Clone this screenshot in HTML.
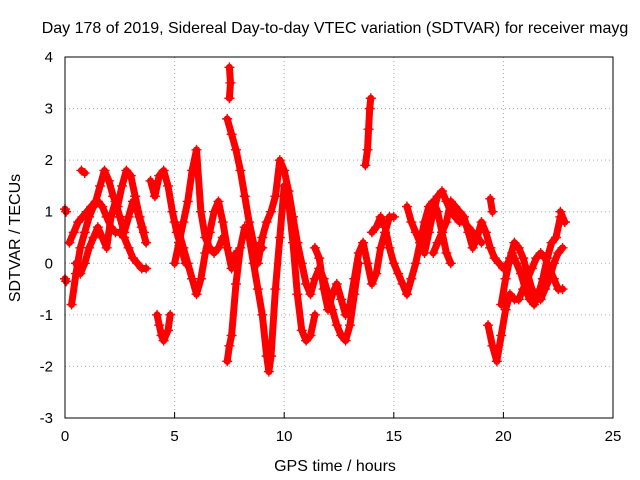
<!DOCTYPE html>
<html><head><meta charset="utf-8"><style>
body{margin:0;background:#fff}
svg{display:block;font-family:"Liberation Sans",sans-serif}
</style></head><body>
<svg id="chart" width="640" height="480">
<text x="335" y="33" text-anchor="middle" font-size="16">Day 178 of 2019, Sidereal Day-to-day VTEC variation (SDTVAR) for receiver mayg</text>
<text x="335" y="471" text-anchor="middle" font-size="16">GPS time / hours</text>
<text transform="translate(20,238) rotate(-90)" text-anchor="middle" font-size="16">SDTVAR / TECUs</text>
<g id="grid"></g>
<g id="marks"></g>
<rect x="65" y="57" width="548" height="361" fill="none" stroke="#000"/>
</svg>
<script>
const xTicks=[0,5,10,15,20,25];
const yTicks=[-3,-2,-1,0,1,2,3,4];
const tracks=[
[[0.3,-0.8],[0.5,-0.2],[0.7,0.3],[0.9,0.6],[1.1,0.9],[1.3,1.1],[1.5,1.2],[1.7,1.1],[1.9,0.9],[2.1,0.7],[2.3,0.6],[2.5,0.6],[2.7,0.5],[2.9,0.3],[3.1,0.1],[3.3,0.0],[3.5,-0.1],[3.7,-0.1]],
[[0.2,0.4],[0.4,0.6],[0.6,0.8],[0.8,0.9],[1.0,1.0],[1.2,1.1],[1.4,1.2],[1.6,1.5],[1.8,1.8],[2.0,1.6],[2.2,1.3],[2.4,1.1],[2.6,1.5],[2.8,1.8],[3.0,1.7],[3.2,1.3],[3.4,0.9],[3.6,0.6]],
[[0.5,0.0],[0.7,-0.2],[0.9,0.0],[1.1,0.3],[1.3,0.5],[1.5,0.7],[1.7,0.5],[1.9,0.3],[2.1,0.9],[2.3,1.2],[2.5,0.9],[2.7,0.6],[2.9,0.9],[3.1,1.2],[3.3,1.0],[3.5,0.7],[3.7,0.4]],
[[3.9,1.6],[4.1,1.3],[4.3,1.7],[4.5,1.8],[4.7,1.5],[4.9,1.0],[5.1,0.6],[5.3,0.3],[5.5,0.0]],
[[4.2,-1.0],[4.3,-1.2],[4.4,-1.4],[4.5,-1.5],[4.7,-1.3],[4.8,-1.0]],
[[5.0,0.0],[5.2,0.4],[5.4,0.8],[5.6,1.2],[5.8,1.8],[6.0,2.2],[6.2,1.0],[6.4,0.5],[6.6,0.3],[6.8,0.2],[7.0,0.3],[7.2,0.5]],
[[5.0,0.8],[5.2,0.6],[5.4,0.3],[5.6,0.0],[5.8,-0.3],[6.0,-0.6],[6.2,-0.3],[6.4,0.2],[6.6,0.6],[6.8,1.0],[7.0,1.2],[7.2,0.8],[7.4,0.3],[7.6,-0.1],[7.8,0.2]],
[[7.4,2.8],[7.6,2.5],[7.8,2.2],[8.0,1.8],[8.2,1.3],[8.4,0.8],[8.6,0.4],[8.8,0.2],[9.0,0.3]],
[[7.5,3.8],[7.55,3.5],[7.5,3.2]],
[[7.4,-1.9],[7.5,-1.6],[7.6,-1.4],[7.8,-0.4],[8.0,0.3],[8.2,0.7],[8.4,0.5],[8.6,0.0],[8.8,-0.5],[9.0,-1.0],[9.2,-1.8],[9.3,-2.1],[9.4,-1.8],[9.6,-0.5],[9.8,0.5],[10.0,1.5],[10.2,1.2],[10.4,0.4],[10.6,-0.6],[10.8,-1.3],[11.0,-1.5],[11.2,-1.4],[11.4,-1.0]],
[[8.8,0.0],[9.0,0.5],[9.2,0.8],[9.4,1.0],[9.6,1.3],[9.8,2.0],[10.0,1.8],[10.2,1.4],[10.4,0.9],[10.6,0.4],[10.8,0.0],[11.0,-0.4],[11.2,-0.6],[11.4,-0.3],[11.6,-0.1],[11.8,-0.3],[12.0,-0.6],[12.2,-0.9],[12.4,-1.2],[12.6,-1.4],[12.8,-1.5],[13.0,-1.2],[13.2,-0.6],[13.4,0.0]],
[[11.4,0.3],[11.6,0.1],[11.8,-0.5],[12.0,-0.9],[12.2,-0.6],[12.4,-0.4],[12.6,-0.7],[12.8,-1.0],[13.0,-0.8],[13.2,-0.3],[13.4,0.2],[13.6,0.4],[13.8,0.0],[14.0,-0.4],[14.2,-0.2],[14.4,0.3],[14.6,0.6],[14.8,0.9],[15.0,0.9]],
[[13.7,1.9],[13.8,2.2],[13.85,2.6],[13.9,3.0],[13.95,3.2]],
[[14.0,0.6],[14.2,0.7],[14.4,0.9],[14.6,0.7],[14.8,0.3],[15.0,0.0],[15.2,-0.2],[15.4,-0.4],[15.6,-0.6],[15.8,-0.3],[16.0,0.0],[16.2,0.4],[16.4,0.8],[16.6,1.1],[16.8,1.2],[17.0,1.0],[17.2,0.6],[17.4,0.2],[17.6,0.0]],
[[15.6,1.1],[15.8,0.8],[16.0,0.6],[16.2,0.4],[16.4,0.2],[16.6,0.6],[16.8,1.0],[17.0,1.3],[17.2,1.4],[17.4,1.2],[17.6,1.0],[17.8,0.9],[18.0,0.8],[18.2,0.8],[18.4,0.7],[18.6,0.6],[18.8,0.5],[19.0,0.4]],
[[16.8,0.2],[17.0,0.4],[17.2,0.6],[17.4,0.8],[17.6,1.2],[17.8,1.1],[18.0,1.0],[18.2,0.9],[18.4,0.6],[18.6,0.3],[18.8,0.5],[19.0,0.8],[19.2,0.6],[19.4,0.3]],
[[19.3,-1.2],[19.5,-1.6],[19.7,-1.9],[19.9,-1.4],[20.1,-0.9],[20.3,-0.6],[20.5,-0.7],[20.7,-0.7],[20.9,-0.5],[21.1,-0.3],[21.3,-0.1],[21.5,0.1],[21.7,0.2],[21.9,0.1],[22.1,-0.1],[22.3,-0.3],[22.5,-0.5],[22.7,-0.5]],
[[19.9,-0.8],[20.1,-0.3],[20.3,0.1],[20.5,0.4],[20.7,0.3],[20.9,0.1],[21.1,-0.2],[21.3,-0.5],[21.5,-0.7],[21.7,-0.7],[21.9,-0.5],[22.1,-0.3],[22.3,0.0],[22.5,0.2],[22.7,0.3]],
[[19.4,0.3],[19.6,0.1],[19.8,0.0],[20.0,-0.1],[20.2,0.0],[20.4,0.2],[20.6,0.0],[20.8,-0.2],[21.0,-0.5],[21.2,-0.7],[21.4,-0.8],[21.6,-0.6],[21.8,-0.3],[22.0,0.1],[22.2,0.4],[22.4,0.5],[22.6,0.9],[22.8,0.8]],
[[0,1.05],[0.05,1.0]],[[0,-0.3],[0.05,-0.35]],[[0.75,1.8],[0.9,1.75]],[[19.4,1.25],[19.5,1.0]],[[22.6,1.0],[22.8,0.8]]
];
const NS="http://www.w3.org/2000/svg";
const X=v=>65+v*548/25, Y=v=>57+(4-v)*361/7;
const grid=document.getElementById('grid'), marks=document.getElementById('marks'), svg=document.getElementById('chart');
function mk(tag,attrs,parent){const e=document.createElementNS(NS,tag);for(const k in attrs)e.setAttribute(k,attrs[k]);parent.appendChild(e);return e;}
xTicks.forEach(t=>{
  const g=mk('line',{x1:X(t),x2:X(t),y1:57,y2:418,stroke:'#aaa','stroke-dasharray':'1,3'},grid);
  
  
  const tk=mk('line',{x1:X(t),x2:X(t),y1:418,y2:412,stroke:'#000'},grid);
  
  
  const l=mk('text',{x:X(t),y:441,'text-anchor':'middle','font-size':15},svg);
  l.textContent=t;
  
  
});
yTicks.forEach(t=>{
  const g=mk('line',{x1:65,x2:613,y1:Y(t),y2:Y(t),stroke:'#aaa','stroke-dasharray':'1,3'},grid);
  
  
  const l=mk('text',{x:53,y:Y(t)+5,'text-anchor':'end','font-size':15},svg);
  l.textContent=t;
  
  
});
tracks.forEach(tr=>{
  const pl=mk('polyline',{points:tr.map(p=>X(p[0])+','+Y(p[1])).join(' '),fill:'none',stroke:'#f00','stroke-width':7,'stroke-linejoin':'round','stroke-linecap':'round'},marks);
  
  
  tr.forEach(p=>{
    const x=X(p[0]),y=Y(p[1]);
    const m=mk('path',{d:`M${x-5},${y}H${x+5}M${x},${y-5}V${y+5}`,stroke:'#f00','stroke-width':1.4},marks);
    
    
  });
});
</script>
</body></html>
